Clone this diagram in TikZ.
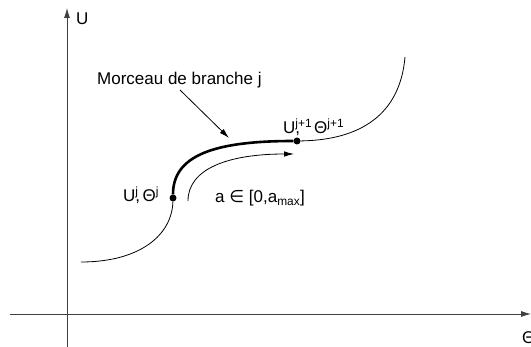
\documentclass[tikz,border=0pt]{standalone}
\usepackage{fontspec}
\setmainfont{Liberation Sans}
\newfontfamily\symfont{DejaVu Sans}
\usetikzlibrary{arrows.meta}

\begin{document}
\begin{tikzpicture}[x=1pt,y=-1pt,
  axis/.style={line width=0.8pt, draw=black!75, -{Latex[length=10pt,width=6pt]}},
  branch/.style={line width=0.8pt},
  thickbranch/.style={line width=2.6pt},
  pointer/.style={line width=0.8pt, -{Latex[length=10pt,width=5.5pt]}},
  dot/.style={circle, fill=black, inner sep=0pt, minimum size=7pt},
  lbl/.style={anchor=base west, inner sep=0pt, font=\fontsize{17}{20}\selectfont}]
\useasboundingbox (0,0) rectangle (531,347);
% axes
\coordinate (xL) at (10,314);
\coordinate (xR) at (531,314);
\coordinate (yB) at (67,347);
\coordinate (yT) at (67,8);
\draw[axis] (xL) -- (xR);
\draw[axis] (yB) -- (yT);
\node[lbl] (labU) at (76,25) {U};
\node[lbl] (labT) at (522,344) {Θ};
% branch
\coordinate (Q0) at (81,262);
\coordinate (Q1) at (405,57);
\node[dot] (Pj) at (173,198) {};
\node[dot] (Pk) at (297,141) {};
\draw[branch] (Q0) .. controls (140,262) and (172,235) .. (Pj);
\draw[thickbranch] (Pj) .. controls (173,155) and (215,141) .. (Pk);
\draw[branch] (Pk) .. controls (360,140) and (400,115) .. (Q1);
% parameter arrow
\coordinate (A0) at (188,201);
\coordinate (A1) at (294,154);
\draw[pointer] (A0) .. controls (188,168) and (230,154) .. (A1);
% labels
\node[lbl] (labM) at (97,85) {Morceau de branche j};
\coordinate (tailM) at (180,90);
\coordinate (tipM) at (229,138);
\draw[pointer] (tailM) -- (tipM);
\node[lbl] (labj) at (123,202) {U\rlap{,}\textsuperscript{j}\hspace{4pt}Θ\textsuperscript{j}};
\node[lbl] (labk) at (283,134) {U\rlap{,}\textsuperscript{j+1}\hspace{2pt}Θ\textsuperscript{j+1}};
\node[lbl] (laba) at (215,203) {a {\symfont∈} [0,a\textsubscript{max}]};
\end{tikzpicture}
\end{document}
